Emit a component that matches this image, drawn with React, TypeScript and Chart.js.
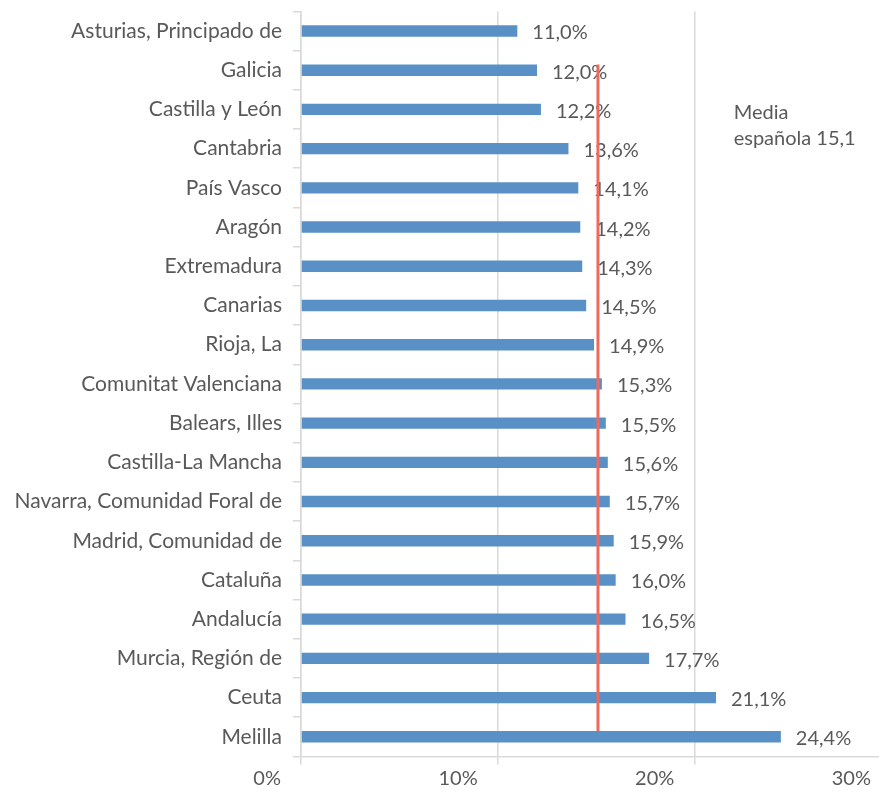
import React, { useEffect, useRef } from "react";
import { Chart, registerables } from "chart.js";

Chart.register(...registerables);

const regions: string[] = [
  "Asturias, Principado de",
  "Galicia",
  "Castilla y León",
  "Cantabria",
  "País Vasco",
  "Aragón",
  "Extremadura",
  "Canarias",
  "Rioja, La",
  "Comunitat Valenciana",
  "Balears, Illes",
  "Castilla-La Mancha",
  "Navarra, Comunidad Foral de",
  "Madrid, Comunidad de",
  "Cataluña",
  "Andalucía",
  "Murcia, Región de",
  "Ceuta",
  "Melilla",
];

const values: number[] = [
  11.0, 12.0, 12.2, 13.6, 14.1, 14.2, 14.3, 14.5, 14.9, 15.3, 15.5, 15.6, 15.7,
  15.9, 16.0, 16.5, 17.7, 21.1, 24.4,
];

const valueLabels: string[] = [
  "11,0%", "12,0%", "12,2%", "13,6%", "14,1%", "14,2%", "14,3%", "14,5%", "14,9%",
  "15,3%", "15,5%", "15,6%", "15,7%", "15,9%", "16,0%", "16,5%", "17,7%", "21,1%", "24,4%",
];

const xTickValues: number[] = [0, 10, 20, 30];
const xTickLabels: string[] = ["0%", "10%", "20%", "30%"];

const mediaValue = 15.1;
const mediaFrom = "Galicia";
const mediaTo = "Melilla";
const mediaText: string[] = ["Media", "española 15,1"];

const FONT = "Lato, 'Noto Sans', sans-serif";
const TEXT = "#595959";
const GRID = "#d9d9d9";
const BAR = "#5990C6";
const RED = "#EE6A5E";

const overlayPlugin = {
  id: "overlay",
  afterDatasetsDraw(chart: any) {
    const ctx = chart.ctx;
    const meta = chart.getDatasetMeta(0);
    const xs = chart.scales.x;
    const ys = chart.scales.y;
    ctx.save();
    ctx.font = `20px ${FONT}`;
    ctx.fillStyle = TEXT;
    ctx.textAlign = "left";
    ctx.textBaseline = "middle";
    meta.data.forEach((bar: any, i: number) => {
      ctx.fillText(valueLabels[i], bar.x + 15, bar.y + 2);
    });
    const a = meta.data[regions.indexOf(mediaFrom)];
    const b = meta.data[regions.indexOf(mediaTo)];
    const x = xs.getPixelForValue(mediaValue);
    ctx.strokeStyle = RED;
    ctx.lineWidth = 3;
    ctx.beginPath();
    ctx.moveTo(x, a.y - a.height / 2);
    ctx.lineTo(x, b.y - b.height / 2);
    ctx.stroke();
    const tx = xs.getPixelForValue(22);
    const mid = ys.getPixelForValue(2.5) - 3;
    ctx.fillText(mediaText[0], tx, mid - 13);
    ctx.fillText(mediaText[1], tx, mid + 13);
    ctx.restore();
  },
};

export default function App() {
  const ref = useRef<HTMLCanvasElement | null>(null);
  useEffect(() => {
    if (!ref.current) return;
    const chart = new Chart(ref.current, {
      type: "bar",
      data: {
        labels: regions,
        datasets: [
          {
            data: values,
            backgroundColor: BAR,
            barPercentage: 0.29,
            categoryPercentage: 1,
          },
        ],
      },
      options: {
        indexAxis: "y",
        animation: false,
        responsive: true,
        maintainAspectRatio: false,
        layout: { padding: { top: 11.4, right: 1, bottom: 0, left: 0 } },
        plugins: {
          legend: { display: false },
          tooltip: { enabled: false },
        },
        scales: {
          x: {
            type: "linear",
            min: 0,
            max: 30,
            afterBuildTicks: (s: any) => {
              s.ticks = xTickValues.map((v) => ({ value: v }));
            },
            ticks: {
              callback: (v: any) => xTickLabels[xTickValues.indexOf(Number(v))],
              align: "end",
              labelOffset: -20,
              padding: 2,
              color: TEXT,
              font: { family: FONT, size: 20 },
            },
            grid: { color: GRID, tickLength: 8, lineWidth: 1.5 },
            border: { color: GRID, width: 1.5 },
            afterFit: (s: any) => {
              s.height = 34.6;
            },
          },
          y: {
            ticks: {
              padding: 11,
              color: TEXT,
              font: { family: FONT, size: 21 },
            },
            grid: { offset: true, drawOnChartArea: false, tickLength: 8, color: GRID, lineWidth: 1.5 },
            border: { color: GRID, width: 1.5 },
            afterFit: (s: any) => {
              s.width = 301;
              s.paddingTop = 0;
              s.paddingBottom = 0;
            },
          },
        },
      },
      plugins: [overlayPlugin],
    });
    return () => chart.destroy();
  }, []);
  return (
    <div
      style={{
        position: "absolute",
        left: 0,
        top: 0,
        width: 879,
        height: 791,
        overflow: "hidden",
        background: "#fff",
      }}
    >
      <div style={{ position: "relative", width: 893, height: 791 }}>
        <canvas ref={ref} />
      </div>
    </div>
  );
}
